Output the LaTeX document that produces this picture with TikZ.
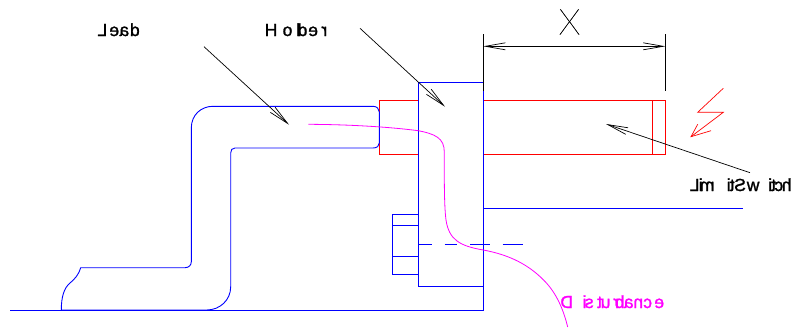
\documentclass[tikz,border=0pt]{standalone}
\usepackage{fontspec}
\setmainfont{Liberation Sans}
\newfontfamily\thinfont{Lato}[UprightFont=* Thin]
\usetikzlibrary{arrows.meta}
\definecolor{distmagenta}{RGB}{255,0,255}
\newcommand{\ml}[2]{\reflectbox{#1}\kern #2pt\relax}
\newcommand{\strokedtext}[3]{\special{pdf:code #1 RG #2 w 2 Tr}#3\special{pdf:code 0 Tr}}
\tikzset{
  outline/.style={blue, line width=0.9pt},
  holderred/.style={red, line width=0.9pt},
  leader/.style={-{Straight Barb[length=20pt,width=7pt]}, line width=0.7pt},
  dimline/.style={{Straight Barb[length=20pt,width=7pt]}-{Straight Barb[length=20pt,width=7pt]}, line width=0.7pt},
  lbl/.style={inner sep=0pt, anchor=base west, font=\fontsize{17.5}{17.5}\selectfont}
}
\begin{document}
\begin{tikzpicture}[x=1pt,y=-1pt]
  \useasboundingbox (0,0) rectangle (794,327);
  % switch
  \draw[holderred] (418.3,100) -- (379.3,100) -- (379.3,154.3) -- (418.3,154.3);
  \draw[holderred] (483.3,100) rectangle (665.5,154.3);
  \draw[holderred] (652.3,100) -- (652.3,154.3);
  % lightning
  \draw[red, line width=0.7pt] (723.3,88.3) -- (697.7,112.3) -- (723.3,112.3) -- (691,136.7);
  \draw[red, line width=0.7pt] (697.7,124.3) -- (691,136.7) -- (711,130.7);
  % lead
  \draw[outline] (61.3,310) .. controls (61.3,297) and (64,288) .. (70,283) .. controls (75,279) and (79,274) .. (80.7,267.7)
    -- (185,267.7) .. controls (189,267.7) and (191.3,265) .. (191.3,261.7) -- (191.3,128)
    .. controls (191.3,115) and (201,106.3) .. (213,106.3) -- (373,106.3)
    .. controls (377,106.3) and (379.3,109) .. (379.3,112) -- (379.3,143)
    .. controls (379.3,146) and (377,148) .. (373,148) -- (235,148)
    .. controls (232,148) and (230.7,150) .. (230.7,153) -- (230.7,286.7)
    .. controls (230.7,300) and (220,310) .. (206.7,310) -- cycle;
  \draw[outline] (10,310) -- (483.3,310) -- (483.3,82.3) -- (418.3,82.3) -- (418.3,286) -- (483.3,286);
  \draw[outline] (483.3,208.3) -- (743,208.3);
  % bolt
  \draw[outline] (418.3,214) -- (392.3,214) -- (392.3,274) -- (418.3,274);
  \draw[outline] (392.3,225.7) -- (418.3,225.7);
  \draw[outline] (392.3,256) -- (418.3,256);
  \draw[outline, dash pattern=on 13.6pt off 12.4pt on 12.6pt off 12.7pt on 20pt off 12.7pt on 20pt] (418.7,244) -- (522.7,244);
  % disturbance
  \draw[distmagenta, line width=0.8pt] (308.3,124.3) .. controls (350,124.5) and (390,127) .. (418.3,130.7)
    .. controls (435,134) and (444.3,138) .. (444.3,152)
    .. controls (444.3,175) and (444,205) .. (446,220)
    .. controls (449,240) and (460,246) .. (483.3,250)
    .. controls (510,255) and (530,265) .. (546.7,283.3)
    .. controls (558,296) and (564,312) .. (567.7,327);
  % dimension
  \draw[line width=0.8pt] (483.3,34) -- (483.3,90.7);
  \draw[line width=0.8pt] (665.3,34) -- (665.3,90.7);
  \coordinate (dimL) at (483.3,46.3);
  \coordinate (dimR) at (665.3,46.3);
  \draw[dimline] (dimL) -- (dimR);
  \node[inner sep=0pt, font=\thinfont\fontsize{36}{36}\selectfont] (dimX) at (569.5,22) {\strokedtext{0 0 0}{0.2}{X}};
  % labels and leaders
  \node[lbl] (leadlbl) at (97.3,36) {\strokedtext{0 0 0}{0.25}{\ml{L}{2.15}\ml{e}{0.3}\ml{a}{0.8}\ml{d}{0}}};
  \coordinate (leadS) at (204,46.7);
  \coordinate (leadE) at (289,124.7);
  \draw[leader] (leadS) -- (leadE);
  \node[lbl] (holderlbl) at (264.5,36) {\strokedtext{0 0 0}{0.25}{\ml{H}{5.35}\ml{o}{3.9}\ml{l}{-2.6}\ml{d}{0.9}\ml{e}{3.45}\ml{r}{0}}};
  \coordinate (holderS) at (360,28.3);
  \coordinate (holderE) at (445,106.7);
  \draw[leader] (holderS) -- (holderE);
  \node[lbl] (switchlbl) at (689.5,191) {\strokedtext{0 0 0}{0.25}{\ml{L}{-0.65}\ml{i}{-2.75}\ml{m}{12.2}\ml{i}{-0.9}\ml{t}{-0.25}\ml{S}{0.85}\ml{w}{8.7}\ml{i}{-1}\ml{t}{-1.4}\ml{c}{-1.4}\ml{h}{0}}};
  \coordinate (switchS) at (750,172.7);
  \coordinate (switchE) at (606,124);
  \draw[leader] (switchS) -- (switchE);
  \node[lbl, text=distmagenta] (distlbl) at (560.2,308) {\strokedtext{1 0 1}{0.25}{\ml{D}{9.55}\ml{i}{-1.65}\ml{s}{3.6}\ml{t}{-1.3}\ml{u}{2.75}\ml{r}{-4.25}\ml{b}{-0.7}\ml{a}{-0.2}\ml{n}{0.25}\ml{c}{2.25}\ml{e}{0}}};
\end{tikzpicture}
\end{document}
